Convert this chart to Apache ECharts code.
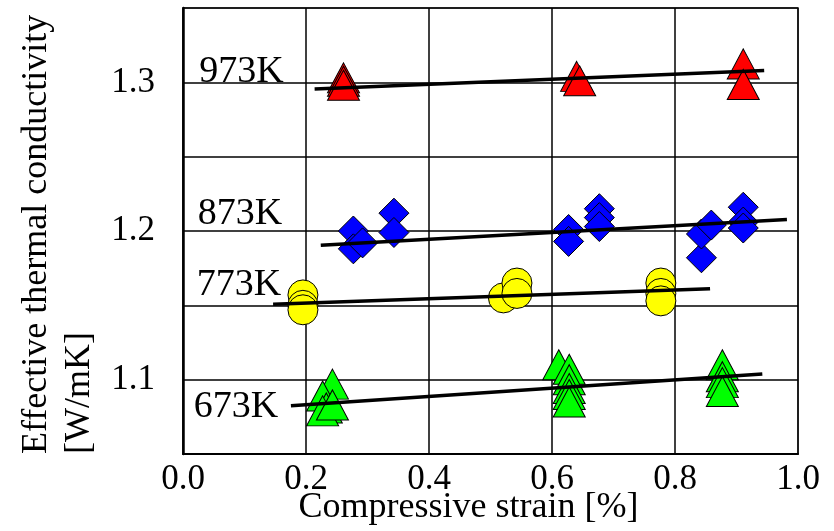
<!DOCTYPE html>
<html>
<head>
<meta charset="utf-8">
<script src="https://cdn.jsdelivr.net/npm/echarts@6/dist/echarts.min.js"></script>
<style>
  html, body { margin: 0; padding: 0; background: #fff; }
  #chart-container { width: 834px; height: 531px; }
</style>
</head>
<body>
<div id="chart-container"></div>
<script>
// measured points [strain %, conductivity W/mK]
var k973 = [[0.261, 1.303], [0.261, 1.3007], [0.261, 1.298], [0.640, 1.304], [0.645, 1.301], [0.911, 1.3124], [0.911, 1.2986]];
var k873 = [[0.277, 1.200], [0.277, 1.188], [0.292, 1.192], [0.343, 1.212], [0.343, 1.199],
  [0.627, 1.201], [0.627, 1.193], [0.677, 1.215], [0.677, 1.209], [0.677, 1.203],
  [0.843, 1.182], [0.843, 1.198], [0.859, 1.204], [0.911, 1.216], [0.911, 1.206], [0.911, 1.202]];
var k773 = [[0.195, 1.157], [0.195, 1.150], [0.195, 1.147], [0.521, 1.155], [0.543, 1.165], [0.543, 1.158],
  [0.777, 1.165], [0.777, 1.158], [0.777, 1.153]];
var k673 = [[0.243, 1.097], [0.227, 1.089], [0.233, 1.081], [0.227, 1.079], [0.243, 1.083],
  [0.611, 1.110], [0.628, 1.107], [0.628, 1.100], [0.628, 1.094], [0.628, 1.090], [0.628, 1.085],
  [0.877, 1.110], [0.877, 1.102], [0.877, 1.098], [0.877, 1.092]];

// fitted lines (end points)
var fit973 = [[0.214, 1.2955], [0.945, 1.3079]];
var fit873 = [[0.224, 1.1904], [0.982, 1.2078]];
var fit773 = [[0.1465, 1.1507], [0.857, 1.1612]];
var fit673 = [[0.1755, 1.0825], [0.942, 1.1038]];

var tempNames = ['973K', '873K', '773K', '673K'];
var labelAnchors = [[0.0951, 1.3071], [0.0927, 1.2111], [0.091, 1.1635], [0.0862, 1.0814]];

var FONT = '"Liberation Serif", "Times New Roman", serif';

var dom = document.getElementById('chart-container');
var myChart = echarts.init(dom, null, { renderer: 'canvas' });

function pts(name, data, symbol, size, color) {
  return {
    name: name,
    type: 'scatter',
    data: data,
    symbol: symbol,
    symbolSize: size,
    itemStyle: { color: color, borderColor: '#000', borderWidth: 1, opacity: 1 },
    z: 3
  };
}

function fit(data) {
  return {
    type: 'line',
    data: data,
    showSymbol: false,
    symbol: 'none',
    lineStyle: { color: '#000', width: 3.5 },
    z: 5,
    silent: true
  };
}

var option = {
  animation: false,
  backgroundColor: '#fff',
  grid: {
    left: 183,
    right: 36,
    top: 8,
    bottom: 77,
    containLabel: false,
    outerBoundsMode: 'none',
    show: true,
    borderColor: '#777',
    borderWidth: 2
  },
  xAxis: {
    type: 'value',
    min: 0,
    max: 1,
    interval: 0.2,
    name: 'Compressive strain [%]',
    nameLocation: 'middle',
    nameGap: 36,
    nameMoveOverlap: false,
    nameTextStyle: { fontFamily: FONT, fontSize: 36, color: '#000', padding: [0, 44, 0, 0] },
    axisLine: { show: true, lineStyle: { color: '#000', width: 2 } },
    axisTick: { show: false },
    axisLabel: {
      margin: 8,
      fontFamily: FONT, fontSize: 35, color: '#000',
      formatter: function (v) { return v.toFixed(1); }
    },
    splitLine: { show: true, lineStyle: { color: '#000', width: 1.5 } }
  },
  yAxis: {
    type: 'value',
    min: 1.05,
    max: 1.35,
    interval: 0.05,
    axisLine: { show: true, lineStyle: { color: '#000', width: 2.5 } },
    axisTick: { show: false },
    axisLabel: {
      margin: 28,
      padding: [6, 0, 0, 0],
      fontFamily: FONT, fontSize: 35, color: '#000',
      showMaxLabel: false,
      formatter: function (v) {
        var r = Math.round(v * 100);
        return (r % 10 === 0 && r < 135) ? (r / 100).toFixed(1) : '';
      }
    },
    splitLine: { show: true, lineStyle: { color: '#000', width: 1.5 } }
  },
  graphic: [{
    type: 'text',
    x: 15,
    y: 454,
    rotation: Math.PI / 2,
    style: {
      text: 'Effective thermal conductivity\n[W/mK]',
      font: '36px ' + FONT,
      fill: '#000',
      align: 'left',
      verticalAlign: 'top',
      lineHeight: 43
    }
  }],
  series: [
    pts('973K', k973, 'triangle', [32, 30], '#ff0000'),
    pts('873K', k873, 'diamond', [30, 30], '#0000ff'),
    pts('773K', k773, 'circle', [30, 30], '#ffff00'),
    pts('673K', k673, 'triangle', [32, 30], '#00ff00'),
    fit(fit973),
    fit(fit873),
    fit(fit773),
    fit(fit673),
    {
      type: 'scatter',
      symbolSize: 0,
      itemStyle: { opacity: 1, color: '#000' },
      silent: true,
      z: 6,
      data: labelAnchors.map(function (p, i) { return { value: p, name: tempNames[i] }; }),
      label: {
        show: true,
        position: [0, 0],
        align: 'center',
        verticalAlign: 'middle',
        formatter: '{b}',
        fontFamily: FONT,
        fontSize: 38,
        color: '#000',
        textBorderWidth: 0
      }
    }
  ]
};

myChart.setOption(option);
</script>
</body>
</html>
